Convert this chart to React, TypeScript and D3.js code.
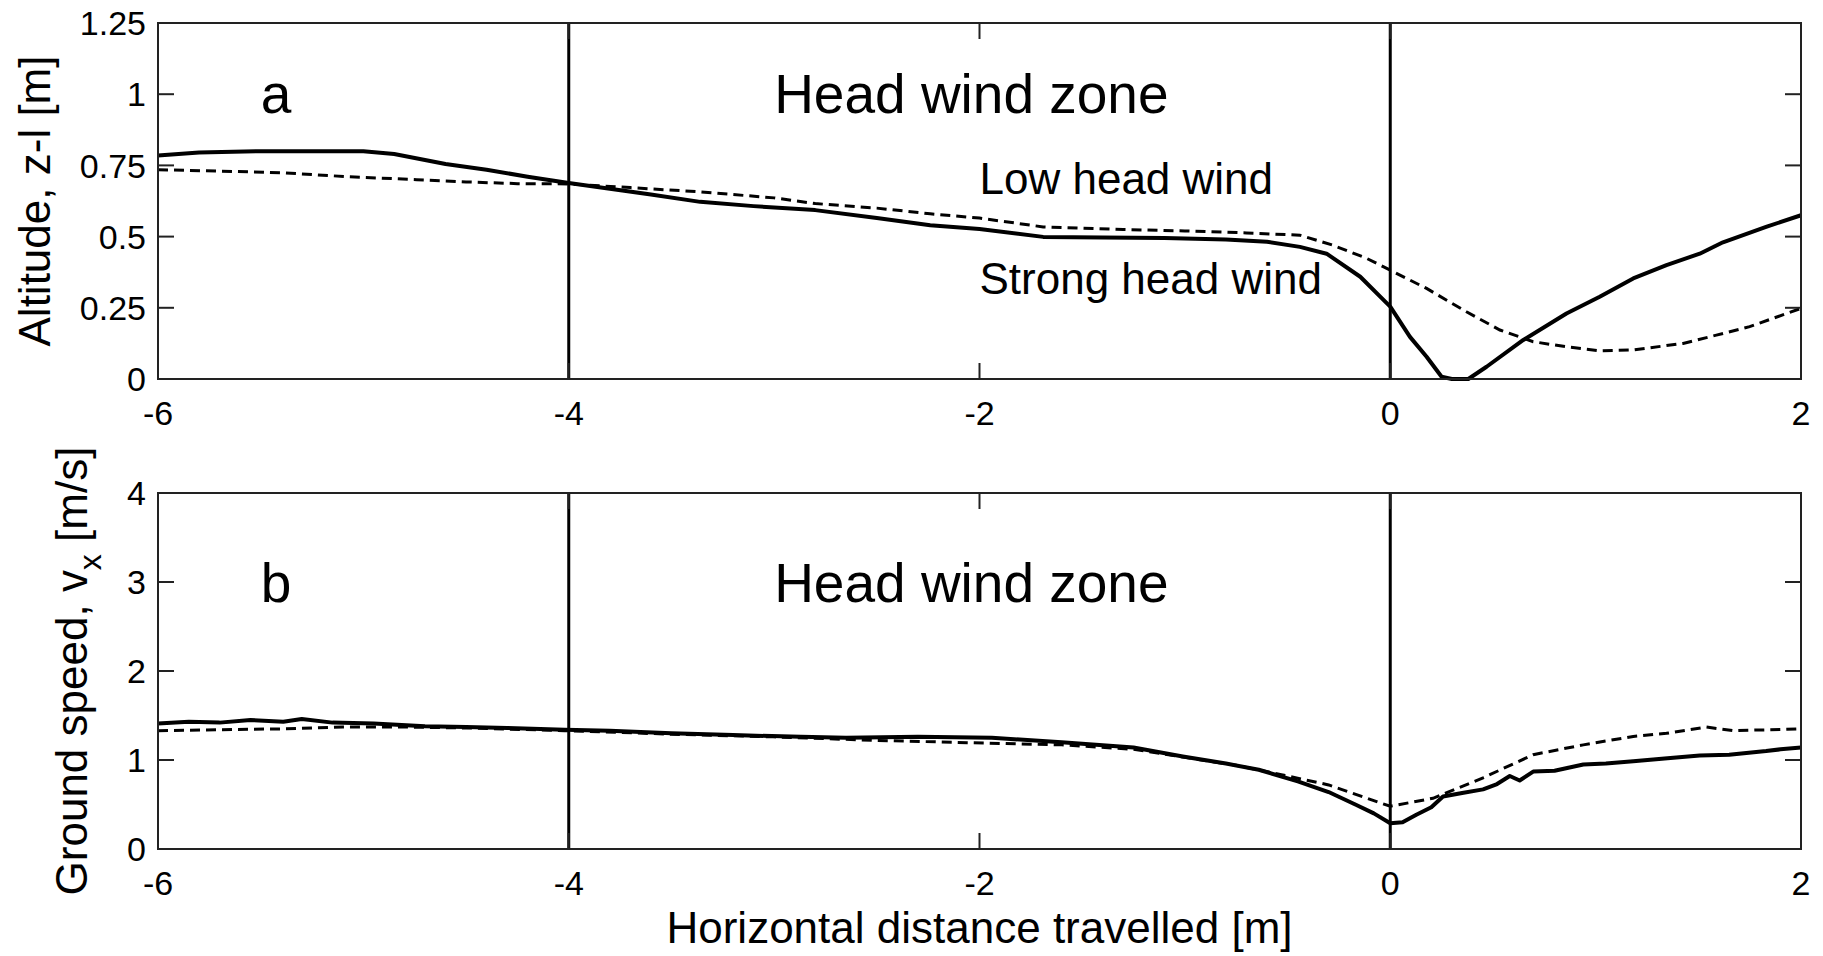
import { useEffect, useRef } from 'react';
import * as d3 from 'd3';

// eje x compartido
const xTicks = [-6, -4, -2, 0, 2];
const zoneBounds = [-4, 0];

// panel a: altitud
const altTicks = [0, 0.25, 0.5, 0.75, 1, 1.25];
const altTickLabels = ['0', '0.25', '0.5', '0.75', '1', '1.25'];
const altStrongX = [-6, -5.8, -5.5, -5.2, -5.0, -4.85, -4.6, -4.4, -4.2, -4.0, -3.8, -3.6, -3.36, -3.1, -2.8, -2.5, -2.24, -2.0, -1.69, -1.4, -1.1, -0.8, -0.6, -0.44, -0.31, -0.146, -0.049, 0, 0.096, 0.177, 0.25, 0.3, 0.38, 0.469, 0.648, 0.858, 1.02, 1.183, 1.345, 1.507, 1.62, 1.83, 2.0];
const altStrongY = [0.785, 0.795, 0.8, 0.8, 0.8, 0.79, 0.755, 0.735, 0.71, 0.688, 0.668, 0.648, 0.622, 0.607, 0.593, 0.565, 0.54, 0.527, 0.499, 0.497, 0.495, 0.49, 0.482, 0.464, 0.44, 0.359, 0.289, 0.254, 0.148, 0.078, 0.008, 0.0, 0.0, 0.043, 0.137, 0.23, 0.289, 0.353, 0.4, 0.44, 0.48, 0.534, 0.575];
const altLowX = [-6, -5.7, -5.39, -5.07, -4.74, -4.5, -4.25, -4.0, -3.7, -3.36, -3.0, -2.8, -2.5, -2.24, -2.0, -1.69, -1.3, -1.0, -0.7, -0.44, -0.28, -0.116, 0, 0.177, 0.371, 0.534, 0.696, 0.858, 1.02, 1.183, 1.426, 1.588, 1.75, 2.0];
const altLowY = [0.735, 0.73, 0.724, 0.71, 0.7, 0.692, 0.686, 0.685, 0.672, 0.657, 0.636, 0.616, 0.6, 0.58, 0.565, 0.534, 0.525, 0.52, 0.513, 0.505, 0.47, 0.424, 0.382, 0.318, 0.236, 0.172, 0.131, 0.113, 0.099, 0.102, 0.125, 0.154, 0.184, 0.248];

// panel b: velocidad
const spdTicks = [0, 1, 2, 3, 4];
const spdTickLabels = ['0', '1', '2', '3', '4'];
const spdStrongX = [-6, -5.85, -5.7, -5.55, -5.39, -5.3, -5.15, -4.95, -4.7, -4.5, -4.3, -4.02, -3.8, -3.5, -3.2, -2.87, -2.65, -2.3, -1.94, -1.6, -1.25, -1.01, -0.8, -0.64, -0.45, -0.3, -0.17, -0.08, 0, 0.06, 0.127, 0.2, 0.257, 0.35, 0.452, 0.52, 0.582, 0.63, 0.696, 0.8, 0.94, 1.05, 1.183, 1.35, 1.507, 1.65, 1.83, 1.9, 2.0];
const spdStrongY = [1.41, 1.43, 1.42, 1.45, 1.43, 1.46, 1.42, 1.41, 1.38, 1.37, 1.36, 1.34, 1.33, 1.3, 1.28, 1.26, 1.25, 1.26, 1.25, 1.2, 1.14, 1.04, 0.96, 0.89, 0.76, 0.64, 0.5, 0.4, 0.29, 0.3, 0.385, 0.47, 0.59, 0.63, 0.67, 0.73, 0.82, 0.77, 0.87, 0.88, 0.95, 0.96, 0.985, 1.02, 1.05, 1.06, 1.1, 1.12, 1.14];
const spdLowX = [-6, -5.7, -5.39, -5.1, -4.8, -4.5, -4.02, -3.5, -3.0, -2.5, -2.06, -1.6, -1.25, -1.0, -0.75, -0.53, -0.3, -0.15, 0, 0.208, 0.452, 0.696, 0.94, 1.183, 1.345, 1.54, 1.67, 1.85, 2.0];
const spdLowY = [1.33, 1.34, 1.35, 1.37, 1.37, 1.36, 1.33, 1.29, 1.26, 1.22, 1.195, 1.17, 1.12, 1.03, 0.94, 0.835, 0.72, 0.6, 0.48, 0.57, 0.8, 1.06, 1.17, 1.265, 1.3, 1.37, 1.33, 1.34, 1.35];

const FONT = '"Liberation Sans", Arial, sans-serif';

const App = () => {
  const ref = useRef<SVGSVGElement>(null);

  useEffect(() => {
    if (!ref.current) return;
    const svg = d3.select(ref.current);
    svg.selectAll('*').remove();

    const left = 158;
    const right = 1801;
    const tickLen = 16;

    const x = d3.scaleLinear().domain([-6, 2]).range([left, right]);

    const panels = [
      {
        top: 23, bottom: 379, domain: [0, 1.25], ticks: altTicks, labels: altTickLabels,
        strong: altStrongX.map((v, i) => [v, altStrongY[i]]),
        low: altLowX.map((v, i) => [v, altLowY[i]]),
        letter: 'a', letterPos: [-5.5, 0.933], zonePos: [-3.0, 0.933],
        ylabelX: 50,
      },
      {
        top: 493, bottom: 849, domain: [0, 4], ticks: spdTicks, labels: spdTickLabels,
        strong: spdStrongX.map((v, i) => [v, spdStrongY[i]]),
        low: spdLowX.map((v, i) => [v, spdLowY[i]]),
        letter: 'b', letterPos: [-5.5, 2.77], zonePos: [-3.0, 2.77],
        ylabelX: 87,
      },
    ];

    panels.forEach((p, pi) => {
      const y = d3.scaleLinear().domain(p.domain).range([p.bottom, p.top]);
      const g = svg.append('g');

      // lineas de zona
      zoneBounds.forEach(b => {
        g.append('line')
          .attr('x1', x(b)).attr('x2', x(b))
          .attr('y1', p.top).attr('y2', p.bottom)
          .attr('stroke', '#000').attr('stroke-width', 3);
      });

      const line = d3.line<number[]>().x(d => x(d[0])).y(d => y(d[1]));
      g.append('path').datum(p.low)
        .attr('fill', 'none').attr('stroke', '#000').attr('stroke-width', 3)
        .attr('stroke-dasharray', '10,6').attr('d', line);
      g.append('path').datum(p.strong)
        .attr('fill', 'none').attr('stroke', '#000').attr('stroke-width', 4)
        .attr('stroke-linejoin', 'round').attr('d', line);

      // caja y ticks hacia dentro
      g.append('rect')
        .attr('x', left).attr('y', p.top)
        .attr('width', right - left).attr('height', p.bottom - p.top)
        .attr('fill', 'none').attr('stroke', '#222').attr('stroke-width', 2);

      p.ticks.forEach((t, i) => {
        g.append('line').attr('x1', left).attr('x2', left + tickLen)
          .attr('y1', y(t)).attr('y2', y(t)).attr('stroke', '#222').attr('stroke-width', 2);
        g.append('line').attr('x1', right).attr('x2', right - tickLen)
          .attr('y1', y(t)).attr('y2', y(t)).attr('stroke', '#222').attr('stroke-width', 2);
        g.append('text')
          .attr('x', left - 12).attr('y', y(t)).attr('dy', '0.36em')
          .attr('text-anchor', 'end')
          .style('font-family', FONT).style('font-size', '34px')
          .text(p.labels[i]);
      });

      xTicks.forEach(t => {
        g.append('line').attr('x1', x(t)).attr('x2', x(t))
          .attr('y1', p.bottom).attr('y2', p.bottom - tickLen).attr('stroke', '#222').attr('stroke-width', 2);
        g.append('line').attr('x1', x(t)).attr('x2', x(t))
          .attr('y1', p.top).attr('y2', p.top + tickLen).attr('stroke', '#222').attr('stroke-width', 2);
        g.append('text')
          .attr('x', x(t)).attr('y', p.bottom + 46)
          .attr('text-anchor', 'middle')
          .style('font-family', FONT).style('font-size', '34px')
          .text(String(t));
      });

      // etiquetas dentro del panel
      g.append('text')
        .attr('x', x(p.letterPos[0])).attr('y', y(p.letterPos[1]))
        .style('font-family', FONT).style('font-size', '55px')
        .text(p.letter);
      g.append('text')
        .attr('x', x(p.zonePos[0])).attr('y', y(p.zonePos[1]))
        .style('font-family', FONT).style('font-size', '55px')
        .text('Head wind zone');

      // etiqueta eje y
      const cy = (p.top + p.bottom) / 2;
      const yl = g.append('text')
        .attr('transform', `translate(${p.ylabelX},${cy}) rotate(-90)`)
        .attr('text-anchor', 'middle')
        .style('font-family', FONT).style('font-size', '44px');
      if (pi === 0) {
        yl.text('Altitude, z-l [m]');
      } else {
        yl.append('tspan').text('Ground speed, v');
        yl.append('tspan').attr('dy', 14).style('font-size', '32px').text('x');
        yl.append('tspan').attr('dy', -14).text(' [m/s]');
      }

      if (pi === 0) {
        g.append('text')
          .attr('x', x(-2)).attr('y', y(0.65))
          .style('font-family', FONT).style('font-size', '44px')
          .text('Low head wind');
        g.append('text')
          .attr('x', x(-2)).attr('y', y(0.3))
          .style('font-family', FONT).style('font-size', '44px')
          .text('Strong head wind');
      }
    });

    svg.append('text')
      .attr('x', (left + right) / 2).attr('y', 943)
      .attr('text-anchor', 'middle')
      .style('font-family', FONT).style('font-size', '44px')
      .text('Horizontal distance travelled [m]');
  }, []);

  return (
    <svg
      ref={ref}
      width={1823}
      height={956}
      style={{ position: 'absolute', left: 0, top: 0, background: '#fff' }}
    />
  );
};

export default App;
